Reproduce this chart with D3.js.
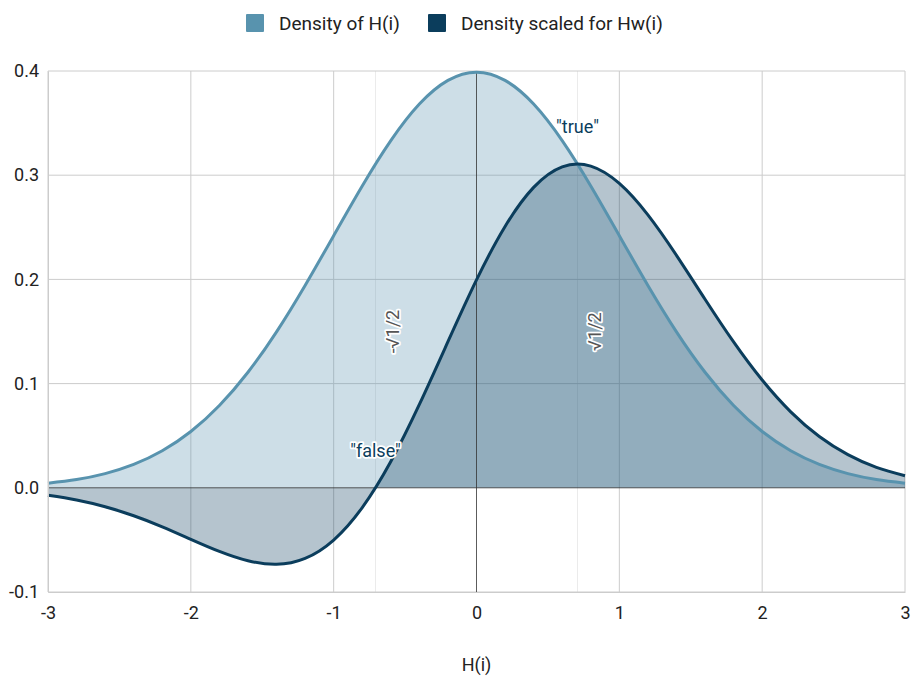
<!DOCTYPE html>
<html>
<head>
<meta charset="utf-8">
<script src="https://cdn.jsdelivr.net/npm/d3@7"></script>
<style>
  body { margin: 0; background: #fff; }
  svg { font-family: Roboto, Arial, sans-serif; }
</style>
</head>
<body>
<svg id="canvas"></svg>
<script>
let width = 921
let height = 687

// values, every 0.2 on H(i)
let xValues = [-3, -2.8, -2.6, -2.4, -2.2, -2, -1.8, -1.6, -1.4, -1.2, -1, -0.8, -0.6, -0.4, -0.2, 0,
               0.2, 0.4, 0.6, 0.8, 1, 1.2, 1.4, 1.6, 1.8, 2, 2.2, 2.4, 2.6, 2.8, 3]
let densityH = [0.0044, 0.0079, 0.0136, 0.0224, 0.0355, 0.0540, 0.0790, 0.1109, 0.1497, 0.1942, 0.2420, 0.2897, 0.3332, 0.3683, 0.3910, 0.3989,
                0.3910, 0.3683, 0.3332, 0.2897, 0.2420, 0.1942, 0.1497, 0.1109, 0.0790, 0.0540, 0.0355, 0.0224, 0.0136, 0.0079, 0.0044]
let densityHw = [-0.0072, -0.0117, -0.0182, -0.0268, -0.0374, -0.0494, -0.0610, -0.0700, -0.0734, -0.0677, -0.0501, -0.0190, 0.0252, 0.0800, 0.1402, 0.1995,
                 0.2508, 0.2883, 0.3080, 0.3087, 0.2921, 0.2619, 0.2231, 0.1810, 0.1400, 0.1034, 0.0729, 0.0492, 0.0318, 0.0196, 0.0116]

let seriesNames = ['Density of H(i)', 'Density scaled for Hw(i)']
let colors = ['#5893ae', '#0b3d5c']

let xTicks = [-3, -2, -1, 0, 1, 2, 3]
let yTicks = [-0.1, 0, 0.1, 0.2, 0.3, 0.4]
let markX = [-0.707, 0.707]
let markLabels = ['-√1/2', '√1/2']
let notes = [{x: -0.707, y: 0, text: '"false"'}, {x: 0.707, y: 0.311, text: '"true"'}]

let canvas = d3.select('#canvas').attr('width', width).attr('height', height)

let xScale = d3.scaleLinear().domain([-3, 3]).range([48, 905])
let yScale = d3.scaleLinear().domain([-0.1, 0.4]).range([592, 71])

// grid
canvas.append('g')
  .selectAll('line')
  .data(xTicks.filter(d => d !== 0))
  .enter()
  .append('line')
  .attr('x1', d => xScale(d)).attr('x2', d => xScale(d))
  .attr('y1', yScale(0.4)).attr('y2', yScale(-0.1))
  .attr('stroke', '#cccccc')

canvas.append('g')
  .selectAll('line')
  .data(markX)
  .enter()
  .append('line')
  .attr('x1', d => xScale(d)).attr('x2', d => xScale(d))
  .attr('y1', yScale(0.4)).attr('y2', yScale(-0.1))
  .attr('stroke', '#ebebeb')

canvas.append('g')
  .selectAll('line')
  .data(yTicks.filter(d => d !== 0))
  .enter()
  .append('line')
  .attr('x1', xScale(-3)).attr('x2', xScale(3))
  .attr('y1', d => yScale(d)).attr('y2', d => yScale(d))
  .attr('stroke', '#cccccc')

// areas
let rows = xValues.map((x, i) => ({x: x, a: densityH[i], b: densityHw[i]}))

let areaH = d3.area().curve(d3.curveNatural)
  .x(d => xScale(d.x)).y0(yScale(0)).y1(d => yScale(d.a))
let areaHw = d3.area().curve(d3.curveNatural)
  .x(d => xScale(d.x)).y0(yScale(0)).y1(d => yScale(d.b))
let lineH = d3.line().curve(d3.curveNatural).x(d => xScale(d.x)).y(d => yScale(d.a))
let lineHw = d3.line().curve(d3.curveNatural).x(d => xScale(d.x)).y(d => yScale(d.b))

canvas.append('path').datum(rows).attr('d', areaH).attr('fill', colors[0]).attr('fill-opacity', 0.3)
canvas.append('path').datum(rows).attr('d', areaHw).attr('fill', colors[1]).attr('fill-opacity', 0.3)

// baselines
canvas.append('line')
  .attr('x1', xScale(-3)).attr('x2', xScale(3))
  .attr('y1', yScale(0)).attr('y2', yScale(0))
  .attr('stroke', '#333').attr('stroke-opacity', 0.8)
canvas.append('line')
  .attr('x1', xScale(0)).attr('x2', xScale(0))
  .attr('y1', yScale(0.4)).attr('y2', yScale(-0.1))
  .attr('stroke', '#333').attr('stroke-opacity', 0.8)

canvas.append('path').datum(rows).attr('d', lineH)
  .attr('fill', 'none').attr('stroke', colors[0]).attr('stroke-width', 3)
canvas.append('path').datum(rows).attr('d', lineHw)
  .attr('fill', 'none').attr('stroke', colors[1]).attr('stroke-width', 3)

// axes
let hyphen = f => d => f(d).replace('−', '-')
let xAxis = d3.axisBottom(xScale).tickValues(xTicks).tickSize(0).tickPadding(14).tickFormat(hyphen(d3.format('d')))
let yAxis = d3.axisLeft(yScale).tickValues(yTicks).tickSize(0).tickPadding(9).tickFormat(hyphen(d3.format('.1f')))

canvas.append('g')
  .attr('transform', `translate(0,${yScale(-0.1)})`)
  .call(xAxis)
  .call(g => g.select('.domain').attr('stroke', '#cccccc'))
  .selectAll('text').attr('font-size', 18).attr('fill', '#222').attr('font-family', 'Roboto')

canvas.append('g')
  .attr('transform', `translate(${xScale(-3)},0)`)
  .call(yAxis)
  .call(g => g.select('.domain').attr('stroke', '#cccccc'))
  .selectAll('text').attr('font-size', 18).attr('fill', '#222').attr('font-family', 'Roboto')

canvas.append('text')
  .attr('x', (xScale(-3) + xScale(3)) / 2).attr('y', 671)
  .attr('text-anchor', 'middle').attr('font-size', 18).attr('fill', '#222')
  .text('H(i)')

// labels at the sqrt(1/2) lines
canvas.append('g')
  .selectAll('text')
  .data(markX)
  .enter()
  .append('text')
  .attr('transform', d => `translate(${xScale(d) + 17},${yScale(0.15)}) rotate(-90)`)
  .attr('text-anchor', 'middle').attr('dy', '0.35em')
  .attr('font-size', 18).attr('fill', '#555')
  .attr('stroke', '#fff').attr('stroke-width', 3.5).attr('stroke-linejoin', 'round').attr('paint-order', 'stroke')
  .text((d, i) => markLabels[i])

// point notes
canvas.append('g')
  .selectAll('text')
  .data(notes)
  .enter()
  .append('text')
  .attr('x', d => xScale(d.x)).attr('y', d => yScale(d.y) - 31)
  .attr('text-anchor', 'middle')
  .attr('font-size', 18).attr('fill', colors[1])
  .attr('stroke', '#fff').attr('stroke-width', 3.5).attr('stroke-linejoin', 'round').attr('paint-order', 'stroke')
  .text(d => d.text)

// legend
let legendX = [246, 428]
let legend = canvas.append('g')
legend.selectAll('rect')
  .data(seriesNames)
  .enter()
  .append('rect')
  .attr('x', (d, i) => legendX[i]).attr('y', 14)
  .attr('width', 18).attr('height', 18).attr('rx', 1)
  .attr('fill', (d, i) => colors[i])
legend.selectAll('text')
  .data(seriesNames)
  .enter()
  .append('text')
  .attr('x', (d, i) => legendX[i] + 33).attr('y', 23).attr('dy', '0.35em')
  .attr('font-size', 19).attr('fill', '#222')
  .text(d => d)
</script>
</body>
</html>
